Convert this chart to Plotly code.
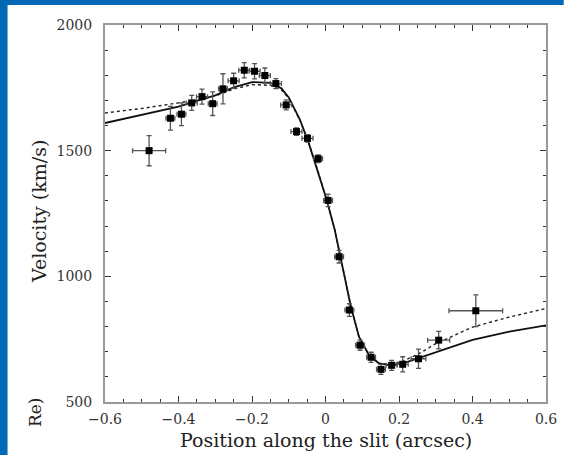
import plotly.graph_objects as go

# Observed data points
pos = [-0.48, -0.422, -0.392, -0.364, -0.336, -0.307, -0.279, -0.250, -0.221, -0.193,
       -0.165, -0.135, -0.107, -0.079, -0.049, -0.020, 0.007, 0.037, 0.065, 0.094,
       0.124, 0.151, 0.180, 0.210, 0.253, 0.308, 0.409]
vel = [1500, 1629, 1645, 1690, 1715, 1687, 1746, 1778, 1820, 1816,
       1799, 1767, 1682, 1576, 1549, 1468, 1302, 1078, 866, 726,
       678, 630, 646, 650, 672, 746, 863]
pos_err = [0.045, 0.012, 0.012, 0.015, 0.015, 0.012, 0.012, 0.015, 0.015, 0.015,
           0.015, 0.015, 0.015, 0.015, 0.015, 0.012, 0.012, 0.012, 0.012, 0.012,
           0.012, 0.012, 0.015, 0.015, 0.020, 0.030, 0.073]
vel_err = [60, 47, 45, 30, 30, 47, 60, 30, 30, 30,
           30, 20, 20, 15, 15, 15, 25, 25, 25, 20,
           20, 20, 20, 30, 38, 35, 63]

# Model curves
model_x = [-0.6, -0.5, -0.4, -0.35, -0.3, -0.25, -0.2, -0.15, -0.12, -0.1, -0.07,
           -0.046, -0.019, 0.003, 0.025, 0.047, 0.069, 0.091, 0.118, 0.145, 0.171,
           0.207, 0.252, 0.3, 0.4, 0.5, 0.6]
solid_v = [1610, 1642, 1675, 1698, 1720, 1752, 1773, 1770, 1748, 1712, 1625,
           1532, 1412, 1306, 1186, 1040, 880, 760, 687, 654, 648,
           652, 674, 700, 747, 780, 805]
dotted_v = [1650, 1668, 1690, 1702, 1718, 1745, 1763, 1760, 1742, 1708, 1622,
            1532, 1412, 1306, 1186, 1040, 880, 760, 687, 654, 650,
            660, 690, 732, 798, 838, 872]

x_ticks = [-0.6, -0.4, -0.2, 0, 0.2, 0.4, 0.6]
x_tick_text = ["\u22120.6", "\u22120.4", "\u22120.2", "0", "0.2", "0.4", "0.6"]
y_ticks = [500, 1000, 1500, 2000]

fig = go.Figure()
fig.add_trace(go.Scatter(x=model_x, y=dotted_v, mode="lines",
                         line=dict(color="#222", width=1.4, dash="dot"), hoverinfo="skip"))
fig.add_trace(go.Scatter(x=model_x, y=solid_v, mode="lines",
                         line=dict(color="#111", width=1.8), hoverinfo="skip"))
fig.add_trace(go.Scatter(
    x=pos, y=vel, mode="markers",
    marker=dict(symbol="square", size=7, color="#000"),
    error_x=dict(type="data", array=pos_err, color="#555", thickness=1.3, width=2.5),
    error_y=dict(type="data", array=vel_err, color="#555", thickness=1.3, width=2.5),
))

L, R, T, B = 105, 16, 25, 53
W, H = 569, 455
pw, ph = W - L - R, H - T - B

def px(xp):
    return (xp - L) / pw

def py(yp):
    return (H - B - yp) / ph

blue = "#0068B4"
shapes = [
    dict(type="rect", xref="paper", yref="paper", x0=px(-2), x1=px(6), y0=py(H + 2), y1=py(-2),
         fillcolor=blue, line=dict(width=0), layer="above"),
    dict(type="rect", xref="paper", yref="paper", x0=px(-2), x1=px(W + 2), y0=py(5), y1=py(-2),
         fillcolor=blue, line=dict(width=0), layer="above"),
]

serif = "DejaVu Serif"
axis_common = dict(showline=True, linecolor="#999", linewidth=2, mirror="ticks",
                   ticks="inside", ticklen=6, tickwidth=1.3, tickcolor="#333",
                   showgrid=False, zeroline=False,
                   tickfont=dict(family=serif, size=14, color="#333"))

fig.update_layout(
    width=W, height=H, margin=dict(l=L, r=R, t=T, b=B),
    paper_bgcolor="white", plot_bgcolor="white", showlegend=False,
    xaxis=dict(range=[-0.6, 0.6], tickvals=x_ticks, ticktext=x_tick_text,
               minor=dict(dtick=0.05, ticks="inside", ticklen=3, tickcolor="#333", tickwidth=1),
               ticklabelstandoff=3, **axis_common),
    yaxis=dict(range=[500, 2000], tickvals=y_ticks,
               minor=dict(dtick=100, ticks="inside", ticklen=3, tickcolor="#333", tickwidth=1),
               ticklabelstandoff=8, **axis_common),
    shapes=shapes,
    annotations=[
        dict(text="Position along the slit (arcsec)", xref="paper", yref="paper",
             x=px(329), y=py(440), xanchor="center", yanchor="middle", showarrow=False,
             font=dict(family=serif, size=19, color="#222")),
        dict(text="Velocity (km/s)", xref="paper", yref="paper", textangle=-90,
             x=px(38), y=py(212), xanchor="center", yanchor="middle", showarrow=False,
             font=dict(family=serif, size=19, color="#222")),
        dict(text="Re)", xref="paper", yref="paper", textangle=-90,
             x=px(34), y=py(412), xanchor="center", yanchor="middle", showarrow=False,
             font=dict(family=serif, size=17, color="#222")),
    ],
)

fig.write_html("out.html", config={"displayModeBar": False},
               post_script="document.body.style.margin='0';document.body.style.overflow='hidden';")
